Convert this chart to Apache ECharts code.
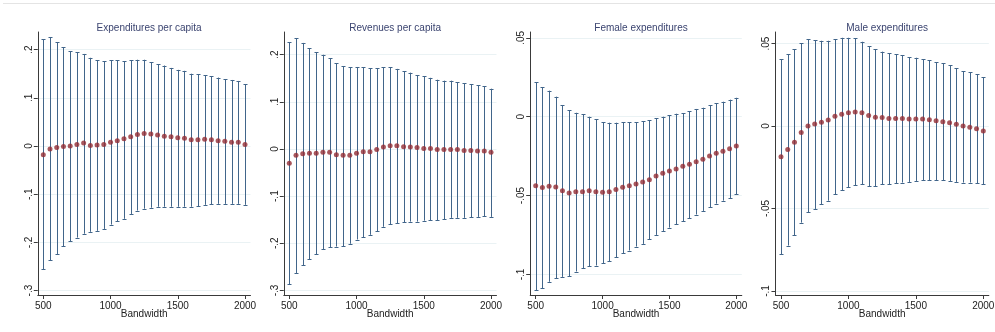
<!DOCTYPE html>
<html>
<head>
<meta charset="utf-8">
<script src="https://cdn.jsdelivr.net/npm/echarts@6/dist/echarts.min.js"></script>
<style>html,body{margin:0;padding:0;background:#fff}#c{width:995px;height:332px}</style>
</head>
<body>
<div id="c"></div>
<script>
// ---------- data ----------
var bandwidth = [500,550,600,650,700,750,800,850,900,950,1000,1050,1100,1150,1200,1250,1300,1350,1400,1450,1500,1550,1600,1650,1700,1750,1800,1850,1900,1950,2000];
var titles = ["Expenditures per capita", "Revenues per capita", "Female expenditures", "Male expenditures"];
var xTicks = [500, 1000, 1500, 2000];
var yTicks1 = [-0.3, -0.2, -0.1, 0, 0.1, 0.2];
var yTicks2 = [-0.3, -0.2, -0.1, 0, 0.1, 0.2];
var yTicks3 = [-0.1, -0.05, 0, 0.05];
var yTicks4 = [-0.1, -0.05, 0, 0.05];

var expPoint = [-0.018,-0.006,-0.003,-0.001,0.000,0.003,0.006,0.001,0.002,0.003,0.008,0.011,0.015,0.019,0.024,0.026,0.025,0.023,0.020,0.019,0.017,0.016,0.013,0.013,0.014,0.013,0.011,0.010,0.008,0.008,0.003];
var expUpper = [0.221,0.226,0.215,0.205,0.197,0.195,0.191,0.183,0.178,0.176,0.178,0.178,0.176,0.178,0.179,0.179,0.174,0.170,0.167,0.162,0.158,0.156,0.150,0.149,0.147,0.145,0.142,0.138,0.137,0.135,0.128];
var expLower = [-0.256,-0.237,-0.224,-0.208,-0.198,-0.190,-0.182,-0.178,-0.176,-0.172,-0.163,-0.156,-0.151,-0.141,-0.134,-0.130,-0.128,-0.126,-0.126,-0.126,-0.126,-0.126,-0.126,-0.125,-0.122,-0.121,-0.120,-0.120,-0.120,-0.120,-0.122];

var revPoint = [-0.030,-0.013,-0.010,-0.009,-0.009,-0.007,-0.007,-0.012,-0.013,-0.013,-0.009,-0.006,-0.006,-0.001,0.004,0.007,0.007,0.005,0.004,0.003,0.001,0.001,-0.001,-0.001,-0.001,-0.001,-0.003,-0.003,-0.004,-0.004,-0.007];
var revUpper = [0.227,0.235,0.225,0.214,0.205,0.200,0.193,0.182,0.176,0.173,0.174,0.173,0.171,0.171,0.173,0.173,0.170,0.165,0.162,0.157,0.154,0.151,0.147,0.145,0.145,0.142,0.139,0.137,0.135,0.133,0.128];
var revLower = [-0.287,-0.263,-0.247,-0.234,-0.223,-0.213,-0.208,-0.207,-0.206,-0.201,-0.192,-0.187,-0.182,-0.174,-0.165,-0.160,-0.157,-0.155,-0.154,-0.154,-0.152,-0.151,-0.151,-0.149,-0.146,-0.146,-0.146,-0.145,-0.144,-0.143,-0.144];

var femPoint = [-0.0437,-0.0449,-0.0441,-0.0445,-0.0470,-0.0483,-0.0475,-0.0475,-0.0470,-0.0475,-0.0479,-0.0475,-0.0462,-0.0447,-0.0437,-0.0426,-0.0414,-0.0399,-0.0376,-0.0359,-0.0344,-0.0331,-0.0314,-0.0302,-0.0285,-0.0270,-0.0249,-0.0232,-0.0219,-0.0203,-0.0186];
var femUpper = [0.0219,0.0186,0.0165,0.0127,0.0074,0.0042,0.0025,0.0015,0.0000,-0.0015,-0.0034,-0.0038,-0.0038,-0.0034,-0.0034,-0.0034,-0.0030,-0.0023,-0.0011,0.0000,0.0008,0.0019,0.0023,0.0036,0.0049,0.0057,0.0074,0.0084,0.0095,0.0108,0.0120];
var femLower = [-0.1100,-0.1086,-0.1046,-0.1023,-0.1015,-0.1011,-0.0981,-0.0960,-0.0949,-0.0943,-0.0928,-0.0916,-0.0892,-0.0865,-0.0848,-0.0823,-0.0806,-0.0776,-0.0749,-0.0724,-0.0703,-0.0681,-0.0662,-0.0643,-0.0620,-0.0597,-0.0574,-0.0551,-0.0532,-0.0515,-0.0492];

var malPoint = [-0.0186,-0.0143,-0.0099,-0.0040,0.0000,0.0012,0.0022,0.0036,0.0059,0.0071,0.0081,0.0085,0.0081,0.0063,0.0053,0.0051,0.0046,0.0046,0.0046,0.0042,0.0042,0.0042,0.0038,0.0032,0.0026,0.0020,0.0010,0.0000,-0.0008,-0.0016,-0.0030];
var malUpper = [0.0404,0.0436,0.0465,0.0501,0.0525,0.0521,0.0517,0.0517,0.0525,0.0535,0.0535,0.0531,0.0511,0.0485,0.0465,0.0451,0.0440,0.0434,0.0428,0.0418,0.0414,0.0404,0.0398,0.0388,0.0380,0.0368,0.0349,0.0333,0.0325,0.0313,0.0295];
var malLower = [-0.0778,-0.0725,-0.0663,-0.0586,-0.0523,-0.0503,-0.0473,-0.0453,-0.0414,-0.0390,-0.0372,-0.0360,-0.0354,-0.0364,-0.0364,-0.0354,-0.0354,-0.0347,-0.0343,-0.0339,-0.0333,-0.0329,-0.0329,-0.0329,-0.0329,-0.0333,-0.0339,-0.0343,-0.0343,-0.0347,-0.0352];

// ---------- layout (pixels) ----------
var panels = [
  {point: expPoint, lo: expLower, hi: expUpper, yTicks: yTicks1, p500: 43.3, p2000: 245.0, zero: 146.0, pxPerUnit: 482},
  {point: revPoint, lo: revLower, hi: revUpper, yTicks: yTicks2, p500: 289.3, p2000: 491.0, zero: 149.0, pxPerUnit: 471.4},
  {point: femPoint, lo: femLower, hi: femUpper, yTicks: yTicks3, p500: 535.7, p2000: 736.3, zero: 116.7, pxPerUnit: 1578},
  {point: malPoint, lo: malLower, hi: malUpper, yTicks: yTicks4, p500: 781.0, p2000: 983.3, zero: 126.0, pxPerUnit: 1649}
];
var TOP = 32, BOTTOM = 295, XMIN = 459, XMAX = 2041;
var FONT = "'Liberation Sans', Arial, sans-serif";
var BAR = '#41658a', DOT = '#922c33', AXIS = '#3a3a3a', GRIDC = '#eaf2f4';

function stataFmt(v) {
  var s = String(+(+v).toFixed(4));
  return s.replace(/^(-?)0\./, '$1.');
}
function plainFmt(v) { return String(Math.round(v)); }

var grids = [], xAxes = [], yAxes = [], series = [], titleArr = [];
panels.forEach(function (p, i) {
  var ppu = (p.p2000 - p.p500) / 1500;
  var left = p.p500 - (500 - XMIN) * ppu;
  var width = (XMAX - XMIN) * ppu;
  grids.push({left: left, top: TOP, width: width, height: BOTTOM - TOP, outerBoundsMode: 'none', containLabel: false});
  titleArr.push({
    text: titles[i], left: left + width / 2, top: 18, textAlign: 'center',
    textStyle: {fontFamily: FONT, fontSize: 10, fontWeight: 'normal', color: '#3b4470'}
  });
  xAxes.push({
    type: 'value', gridIndex: i, min: XMIN, max: XMAX,
    name: 'Bandwidth', nameLocation: 'middle', nameGap: 14, nameMoveOverlap: false,
    nameTextStyle: {fontFamily: FONT, fontSize: 10, color: '#222', verticalAlign: 'top'},
    axisLine: {show: true, onZero: false, lineStyle: {color: AXIS, width: 1}},
    axisTick: {show: true, length: 4, customValues: xTicks, lineStyle: {color: AXIS}},
    axisLabel: {customValues: xTicks, margin: 6, fontFamily: FONT, fontSize: 10, color: '#222', formatter: plainFmt},
    splitLine: {show: false}
  });
  yAxes.push({
    type: 'value', gridIndex: i,
    min: -(BOTTOM - p.zero) / p.pxPerUnit, max: (p.zero - TOP) / p.pxPerUnit,
    axisLine: {show: true, onZero: false, lineStyle: {color: AXIS, width: 1}},
    axisTick: {show: true, length: 4, customValues: p.yTicks, lineStyle: {color: AXIS}},
    axisLabel: {customValues: p.yTicks, rotate: 90, margin: 4, fontFamily: FONT, fontSize: 10, color: '#222', formatter: stataFmt},
    splitLine: {show: true, lineStyle: {color: GRIDC, width: 1}}
  });
  var ebData = bandwidth.map(function (b, k) { return [b, p.lo[k], p.hi[k]]; });
  series.push({
    type: 'custom', xAxisIndex: i, yAxisIndex: i, data: ebData, z: 2, silent: true,
    renderItem: function (params, api) {
      var x = api.value(0);
      var a = api.coord([x, api.value(1)]);
      var b = api.coord([x, api.value(2)]);
      var cx = Math.round(a[0]) + 0.5;
      var hw = 2;
      var st = {stroke: BAR, lineWidth: 1};
      return {type: 'group', children: [
        {type: 'line', shape: {x1: cx, y1: a[1], x2: cx, y2: b[1]}, style: st},
        {type: 'line', shape: {x1: cx - hw, y1: Math.round(a[1]) + 0.5, x2: cx + hw, y2: Math.round(a[1]) + 0.5}, style: st},
        {type: 'line', shape: {x1: cx - hw, y1: Math.round(b[1]) + 0.5, x2: cx + hw, y2: Math.round(b[1]) + 0.5}, style: st}
      ]};
    }
  });
  series.push({
    type: 'scatter', xAxisIndex: i, yAxisIndex: i, z: 3, silent: true,
    symbol: 'circle', symbolSize: 5,
    itemStyle: {color: DOT},
    data: bandwidth.map(function (b, k) { return [b, p.point[k]]; })
  });
});

var chart = echarts.init(document.getElementById('c'), null, {renderer: 'canvas'});
chart.setOption({
  animation: false,
  backgroundColor: '#ffffff',
  title: titleArr,
  grid: grids,
  xAxis: xAxes,
  yAxis: yAxes,
  series: series,
  graphic: [{type: 'line', shape: {x1: 3, y1: 3.5, x2: 995, y2: 3.5}, style: {stroke: '#e4e4e4', lineWidth: 1}, silent: true}]
});
</script>
</body>
</html>
